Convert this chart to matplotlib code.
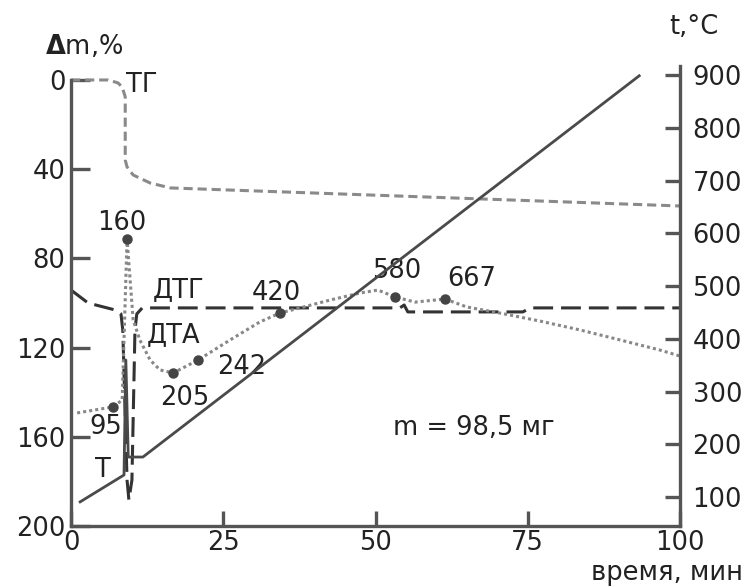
import matplotlib
matplotlib.use("Agg")
import matplotlib.pyplot as plt

plt.rcParams["font.family"] = ["DejaVu Sans"]

# время, мин / потеря массы, % (левая ось)
tg_time = [0, 6.1, 7.7, 8.4, 8.9, 8.9, 9.2, 10.2, 13.0, 16.3, 100]
tg_mass = [0, 0, 1.3, 3.1, 7.6, 35.9, 39.0, 42.6, 46.2, 48.4, 56.5]

dtg_time = [0, 2.8, 7.2, 8.2, 8.5, 9.2, 9.5, 10.0, 10.5, 10.8, 11.7,
            54.0, 54.7, 55.3, 74.2, 75.4, 100]
dtg_val = [94.2, 100.0, 103.1, 104.9, 112.1, 179.4, 188.3, 179.4, 112.1,
           104.9, 102.2, 102.2, 100.9, 104.0, 104.0, 102.2, 102.2]

dta_time = [1.0, 6.9, 8.4, 9.2, 10.2, 11.3, 13.0, 14.6, 16.75, 20.85, 26.1,
            31.0, 34.3, 37.6, 42.5, 47.5, 50.4, 53.2, 56.5, 61.4, 65.0,
            70.4, 77.0, 83.6, 90.2, 96.7, 100]
dta_val = [149.3, 146.6, 143.5, 71.3, 107.6, 116.6, 125.6, 130.0, 131.4,
           125.6, 116.6, 108.5, 104.5, 102.2, 98.7, 95.5, 94.2, 97.3, 99.6,
           98.2, 101.8, 104.5, 108.1, 112.1, 116.6, 121.1, 123.8]

# характерные точки на кривой ДТА и температуры, °C
peak_time = [6.9, 9.2, 16.75, 20.85, 34.3, 53.2, 61.4]
peak_val = [146.6, 71.3, 131.4, 125.6, 104.5, 97.3, 98.2]
peak_labels = ["95", "160", "205", "242", "420", "580", "667"]
label_time = [5.75, 8.3, 18.7, 28.1, 33.8, 53.4, 65.8]
label_val = [155.6, 64.1, 142.6, 128.7, 95.5, 85.7, 89.2]

# температура печи, °C (правая ось)
t_time = [1.5, 8.7, 9.0, 9.4, 11.8, 93.3]
t_temp = [91, 142, 360, 176, 176, 899]

axis_col = "#555555"
text_col = "#222222"
fs = 18.5

fig = plt.figure(figsize=(7.5, 5.87), dpi=100)
ax = fig.add_axes([0.0947, 0.1039, 0.812, 0.7837])
ax2 = ax.twinx()

ax.plot(tg_time, tg_mass, color="#8a8a8a", lw=2.2, dashes=(3.0, 1.6))
ax.plot(dtg_time, dtg_val, color="#333333", lw=2.2, dashes=(6.5, 2.6))
ax.plot(dta_time, dta_val, color="#888888", lw=2.2, dashes=(1, 1))
ax.plot(peak_time, peak_val, "o", color="#444444", ms=6.5, zorder=5)
ax2.plot(t_time, t_temp, color="#4a4a4a", lw=2.0)

for lbl, x, y in zip(peak_labels, label_time, label_val):
    ax.text(x, y, lbl, fontsize=fs, color=text_col, ha="center", va="center")

ax.text(9.0, 2.2, "ТГ", fontsize=fs, color=text_col, va="center")
ax.text(13.5, 94.2, "ДТГ", fontsize=fs, color=text_col, va="center")
ax.text(12.5, 114.3, "ДТА", fontsize=fs, color=text_col, va="center")
ax.text(5.25, 174.9, "T", fontsize=fs, color=text_col, ha="center", va="center")
ax.text(66.2, 156.1, "m = 98,5 мг", fontsize=fs, color=text_col,
        ha="center", va="center")

ax.set_xlim(0, 100)
ax.set_ylim(200, -6.28)
ax.set_xticks([0, 25, 50, 75, 100])
ax.set_yticks([0, 40, 80, 120, 160, 200])
ax2.set_ylim(45.2, 917.6)
ax2.set_yticks([100, 200, 300, 400, 500, 600, 700, 800, 900])

for a in (ax, ax2):
    for s in a.spines.values():
        s.set_visible(False)
        s.set_color(axis_col)
        s.set_linewidth(2.4)
ax.spines["left"].set_visible(True)
ax.spines["left"].set_bounds(0, 200)
ax.spines["bottom"].set_visible(True)
ax2.spines["right"].set_visible(True)

ax.tick_params(axis="y", direction="in", length=14, width=2.4, color=axis_col,
               labelsize=fs, labelcolor=text_col, pad=4)
ax.tick_params(axis="x", direction="in", length=11, width=2.4, color=axis_col,
               labelsize=fs, labelcolor=text_col, pad=3)
ax2.tick_params(axis="y", direction="in", length=11, width=2.4, color=axis_col,
                labelsize=fs, labelcolor=text_col, pad=9)

fig.text(0.06, 0.92, r"$\mathbf{\Delta}$m,%", fontsize=fs, color=text_col,
         va="center")
fig.text(0.893, 0.954, "t,°C", fontsize=fs, color=text_col, va="center")
fig.text(0.991, 0.0125, "время, мин", fontsize=fs, color=text_col,
         ha="right", va="baseline")

fig.savefig("out.png", dpi=100)
